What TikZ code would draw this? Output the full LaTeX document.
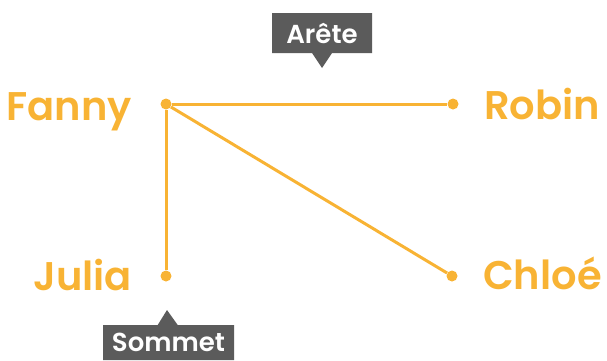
\documentclass[tikz,border=0pt]{standalone}
\usepackage{fontspec}
\setmainfont{Poppins}[BoldFont={Poppins SemiBold}]
\usetikzlibrary{shapes.callouts}
\definecolor{graphorange}{HTML}{F8B334}
\definecolor{calloutgray}{HTML}{5B5B5B}
\tikzset{vertex/.style={circle,fill=graphorange,inner sep=0,minimum size=11pt}}
\tikzset{persname/.style={text=graphorange,font=\fontsize{40}{40}\selectfont\bfseries,inner sep=0}}
\tikzset{edge/.style={draw=graphorange,line width=3pt}}
\tikzset{tag/.style={rectangle callout,fill=calloutgray,text=white,
        font=\fontsize{26}{26}\selectfont\bfseries,inner sep=0,
        callout pointer width=20pt}}

\begin{document}
\begin{tikzpicture}[x=1pt,y=-1pt]
\useasboundingbox (0,0) rectangle (607,360);
% Vertices
\node[vertex] (fanny) at (166,104) {};
\node[vertex] (robin) at (453,104) {};
\node[vertex] (julia) at (166,276) {};
\node[vertex] (chloe) at (452,276) {};
% Names
\node[persname,anchor=base east] (fannytxt) at (132,120) {Fanny};
\node[persname,anchor=base west] (robintxt) at (484,119) {Robin};
\node[persname,anchor=base east] (juliatxt) at (132,290) {Julia};
\node[persname,anchor=base west] (chloetxt) at (483,289) {Chloé};
% Edges
\draw[edge] (fanny) -- (robin);
\draw[edge] (fanny) -- (julia);
\draw[edge] (fanny) -- (chloe);
% Labels
\coordinate (aretetip) at (322,68);
\coordinate (sommettip) at (167,310);
\node[tag,minimum width=100pt,minimum height=40pt,callout absolute pointer={(aretetip)}] (arete) at (322,33) {Arête};
\node[tag,minimum width=131pt,minimum height=35pt,callout absolute pointer={(sommettip)}] (sommet) at (168.5,342.5) {Sommet};
\end{tikzpicture}
\end{document}
